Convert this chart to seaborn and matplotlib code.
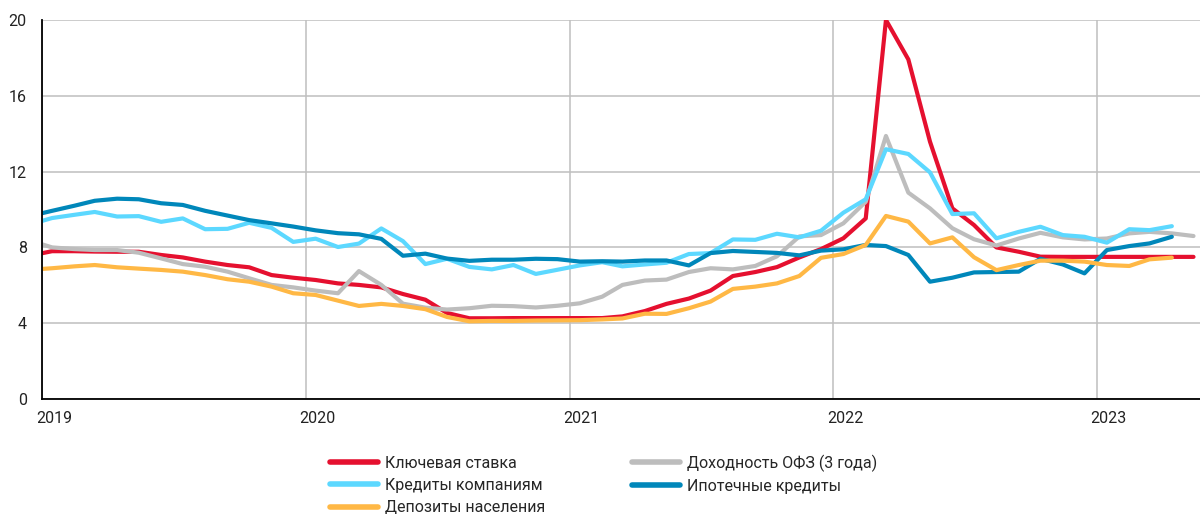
import matplotlib
matplotlib.use("Agg")
import matplotlib.pyplot as plt
import matplotlib.transforms as mtransforms
import seaborn as sns
import numpy as np
import pandas as pd

# monthly values, Dec 2018 .. May 2023 (mid-month points)
key_rate = [7.56, 7.8, 7.8, 7.78, 7.77, 7.77, 7.6, 7.47, 7.25, 7.07, 6.95, 6.54, 6.4,
            6.28, 6.1, 6.02, 5.89, 5.54, 5.24, 4.54, 4.26, 4.26, 4.27, 4.27, 4.27, 4.27,
            4.27, 4.36, 4.64, 5.02, 5.3, 5.72, 6.49, 6.7, 6.96, 7.47, 7.91, 8.48, 9.53,
            20.0, 17.92, 13.58, 10.06, 9.18, 8.0, 7.77, 7.51, 7.5, 7.5, 7.5, 7.5, 7.5, 7.5, 7.5]
ofz_3y = [8.36, 8.0, 7.91, 7.86, 7.86, 7.72, 7.42, 7.12, 6.98, 6.72, 6.37, 6.02, 5.89,
          5.72, 5.58, 6.75, 6.02, 5.03, 4.82, 4.72, 4.79, 4.92, 4.9, 4.83, 4.92, 5.05,
          5.4, 6.02, 6.25, 6.3, 6.7, 6.9, 6.84, 7.02, 7.53, 8.58, 8.65, 9.27, 10.41,
          13.88, 10.89, 10.06, 9.01, 8.43, 8.1, 8.47, 8.77, 8.53, 8.42, 8.47, 8.74, 8.82, 8.74, 8.6]
corp_loans = [9.21, 9.55, 9.72, 9.87, 9.63, 9.65, 9.35, 9.53, 8.96, 8.98, 9.3, 9.03, 8.29,
              8.46, 8.02, 8.2, 9.0, 8.33, 7.12, 7.4, 6.97, 6.84, 7.07, 6.6, 6.82, 7.05,
              7.22, 7.0, 7.1, 7.19, 7.65, 7.7, 8.42, 8.4, 8.72, 8.53, 8.88, 9.83, 10.54,
              13.18, 12.93, 11.96, 9.76, 9.8, 8.48, 8.82, 9.09, 8.65, 8.56, 8.25, 8.96, 8.91, 9.12]
mortgage = [9.65, 9.93, 10.2, 10.46, 10.57, 10.54, 10.33, 10.24, 9.93, 9.68, 9.44, 9.27, 9.1,
            8.9, 8.75, 8.69, 8.45, 7.56, 7.67, 7.41, 7.29, 7.35, 7.35, 7.4, 7.38, 7.25,
            7.27, 7.25, 7.31, 7.31, 7.05, 7.7, 7.81, 7.76, 7.71, 7.58, 7.83, 7.9, 8.13,
            8.07, 7.6, 6.19, 6.4, 6.68, 6.7, 6.72, 7.4, 7.1, 6.63, 7.86, 8.07, 8.21, 8.56]
deposits = [6.82, 6.9, 7.0, 7.07, 6.95, 6.88, 6.81, 6.72, 6.54, 6.32, 6.19, 5.93, 5.58,
            5.49, 5.19, 4.91, 5.02, 4.91, 4.74, 4.33, 4.1, 4.12, 4.12, 4.14, 4.15, 4.16,
            4.2, 4.25, 4.5, 4.49, 4.79, 5.14, 5.81, 5.93, 6.1, 6.49, 7.45, 7.65, 8.13,
            9.66, 9.36, 8.21, 8.53, 7.48, 6.8, 7.07, 7.3, 7.3, 7.25, 7.07, 7.02, 7.37, 7.46]

series_names = ["Ключевая ставка", "Доходность ОФЗ (3 года)", "Кредиты компаниям",
                "Ипотечные кредиты", "Депозиты населения"]
series_values = [key_rate, ofz_3y, corp_loans, mortgage, deposits]
colors = ["#E5102F", "#BDBDBD", "#5CD8FF", "#0087BA", "#FFB845"]
legend_order = [0, 2, 4, 1, 3]
year_ticks = ["2019", "2020", "2021", "2022", "2023"]

frames = []
for name, vals in zip(series_names, series_values):
    dates = pd.date_range("2018-12-01", periods=len(vals), freq="MS") + pd.Timedelta(days=14)
    frames.append(pd.DataFrame({"date": dates, "value": vals, "series": name}))
df = pd.concat(frames, ignore_index=True)

sns.set_style("white")
plt.rcParams["font.family"] = ["Roboto", "DejaVu Sans"]

fig = plt.figure(figsize=(12, 5.14), dpi=100)
ax = fig.add_axes([42 / 1200, 115 / 514, 1158 / 1200, 379 / 514])

sns.lineplot(data=df, x="date", y="value", hue="series", hue_order=series_names,
             palette=colors, linewidth=3, ax=ax, legend=False)

ax.set_xlim(pd.Timestamp("2019-01-01"), pd.Timestamp("2023-05-24"))
ax.set_ylim(0, 20)
ax.set_yticks(np.arange(0, 21, 4))
ax.set_xticks([pd.Timestamp(f"{y}-01-01") for y in year_ticks])
ax.set_xticklabels(year_ticks)
ax.set_xlabel("")
ax.set_ylabel("")

ax.grid(True, color="#BFBFBF", linewidth=1.1)
ax.set_axisbelow(True)
for s in ["top", "right"]:
    ax.spines[s].set_visible(False)
for s in ["left", "bottom"]:
    ax.spines[s].set_color("black")
    ax.spines[s].set_linewidth(1.3)
ax.tick_params(axis="both", length=5, width=1.1, color="black", labelsize=11.5,
               labelcolor="#222222", direction="out")
ax.tick_params(axis="y", pad=6)

# shift year labels a bit to the right
offset = mtransforms.ScaledTranslation(0.12, 0, fig.dpi_scale_trans)
for lbl in ax.get_xticklabels():
    lbl.set_transform(lbl.get_transform() + offset)

handles = [plt.Line2D([], [], color=colors[i], linewidth=4) for i in legend_order]
labels = [series_names[i] for i in legend_order]
fig.legend(handles, labels, ncol=2, loc="upper left", bbox_to_anchor=(324 / 1200, 1 - 448 / 514),
           frameon=False, fontsize=11.5, handlelength=3.0, handletextpad=0.45,
           columnspacing=5.4, labelspacing=0.45, borderaxespad=0)

fig.savefig("out.png", dpi=100)
